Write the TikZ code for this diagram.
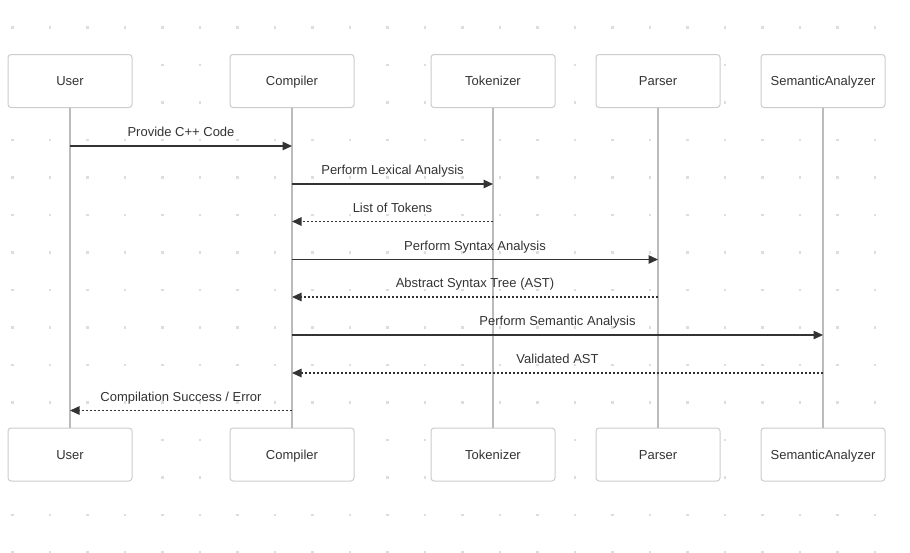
\documentclass[tikz,border=0pt]{standalone}
\usepackage{fontspec}
\setmainfont{Liberation Sans}
\usetikzlibrary{arrows.meta}
\definecolor{boxline}{HTML}{CCCCCC}
\definecolor{lifecol}{HTML}{BBBBBB}
\definecolor{ink}{HTML}{333333}
\definecolor{griddot}{HTML}{DDDDDD}
\begin{document}
\begin{tikzpicture}[x=1pt, y=-1pt, line join=round, font=\fontsize{13}{15}\selectfont, text=ink,
	actor/.style={draw=boxline, fill=white, rounded corners=3pt, line width=1pt, minimum width=124pt, minimum height=53pt, text height=9.4pt, text depth=0pt},
	life/.style={draw=lifecol, line width=1.6pt},
	msg/.style={draw=ink, line width=1.3pt, -{Triangle[length=9.5pt, width=8.5pt]}},
	reply/.style={msg, dash pattern=on 2pt off 2pt},
	lbl/.style={anchor=base, yshift=9.5pt, inner sep=0pt}]
			\def\ytop{81}
			\def\ybot{454.5}
			\useasboundingbox (0,0) rectangle (910,552);
			\clip (0,0) rectangle (910,552);
			% Background dots
			\foreach \i in {0,...,23}
			\foreach \j in {0,...,14}
			\fill [griddot] ({11.3+37.5*\i},{26.3+37.5*\j}) rectangle ++(2.4,2.4);
			% Participants and lifelines
			\foreach \x/\n/\t in {70/user/User, 292/comp/Compiler, 493/tok/Tokenizer, 658/pars/Parser, 823/sem/SemanticAnalyzer} {
				\node [actor] (\n T) at (\x,\ytop) {\t};
				\node [actor] (\n B) at (\x,\ybot) {\t};
				\draw [life] (\n T) -- (\n B);
			}
			% Message rows
			\foreach \k/\y in {1/146, 2/184, 3/221.5, 4/259.5, 5/297, 6/335, 7/373, 8/410.5}
			\coordinate (m\k) at (0,\y);
			% Messages
			\draw [msg] (userT |- m1) -- (compT |- m1) node [midway, lbl] {Provide C++ Code};
			\draw [msg] (compT |- m2) -- (tokT |- m2) node [midway, lbl] {Perform Lexical Analysis};
			\draw [reply] (tokT |- m3) -- (compT |- m3) node [midway, lbl] {List of Tokens};
			\draw [msg] (compT |- m4) -- (parsT |- m4) node [midway, lbl] {Perform Syntax Analysis};
			\draw [reply] (parsT |- m5) -- (compT |- m5) node [midway, lbl] {Abstract Syntax Tree (AST)};
			\draw [msg] (compT |- m6) -- (semT |- m6) node [midway, lbl] {Perform Semantic Analysis};
			\draw [reply] (semT |- m7) -- (compT |- m7) node [midway, lbl] {Validated AST};
			\draw [reply] (compT |- m8) -- (userT |- m8) node [midway, lbl] {Compilation Success / Error};
\end{tikzpicture}
\end{document}
